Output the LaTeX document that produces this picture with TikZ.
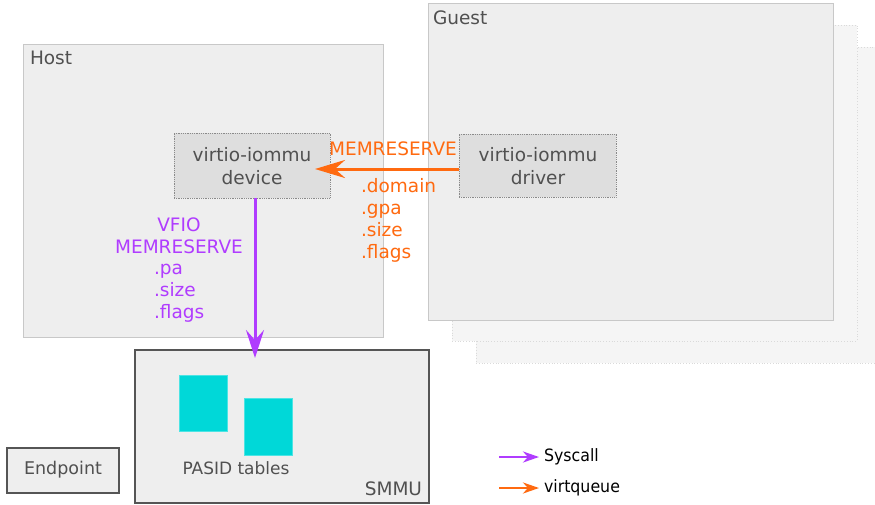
\documentclass[tikz,border=0pt]{standalone}
\usepackage{fontspec}
\setmainfont{DejaVu Sans}
\usetikzlibrary{arrows.meta}
\definecolor{boxfill}{HTML}{EEEEEE}
\definecolor{boxline}{HTML}{C8C8C8}
\definecolor{shadowfill}{HTML}{F5F5F5}
\definecolor{shadowline}{HTML}{DADADA}
\definecolor{compfill}{HTML}{DEDEDE}
\definecolor{compline}{HTML}{8A8A8A}
\definecolor{hwline}{HTML}{555555}
\definecolor{txt}{HTML}{505050}
\definecolor{orng}{HTML}{FF6A10}
\definecolor{purp}{HTML}{B03CFF}
\definecolor{tblfill}{HTML}{00D8D8}
\begin{document}
\begin{tikzpicture}[x=1pt,y=-1pt,
  every node/.style={inner sep=0pt, outer sep=0pt},
  region/.style={fill=boxfill, draw=boxline, line width=1pt, anchor=north west},
  shadowbox/.style={fill=shadowfill, draw=shadowline, dotted, line width=0.8pt, anchor=north west},
  comp/.style={fill=compfill, draw=compline, densely dotted, line width=0.8pt, anchor=north west},
  hw/.style={fill=boxfill, draw=hwline, line width=1.2pt, anchor=north west},
  tbl/.style={fill=tblfill, draw=tblfill!70!white, line width=0.6pt, anchor=north west},
  lbl/.style={text=txt, font=\fontsize{18.5}{23}\selectfont},
  olbl/.style={text=orng, font=\fontsize{18.5}{22}\selectfont},
  plbl/.style={text=purp, font=\fontsize{18.5}{22}\selectfont},
  oarrow/.style={draw=orng, line width=3pt, -{Stealth[length=30pt,width=18pt,inset=10pt]}},
  parrow/.style={draw=purp, line width=3pt, -{Stealth[length=28pt,width=18pt,inset=10pt]}},
  legarrowp/.style={draw=purp, line width=2.5pt, -{Stealth[length=16pt,width=11pt,inset=5pt]}},
  legarrowo/.style={draw=orng, line width=2.5pt, -{Stealth[length=16pt,width=11pt,inset=5pt]}},
]
\useasboundingbox[fill=white] (0,0) rectangle (875,504);

% Host
\node[region, minimum width=360pt, minimum height=293pt] (host) at (23,44) {};
\node[lbl, anchor=west] (hostl) at (30,58) {Host};

% Guest shadows
\node[shadowbox, minimum width=399pt, minimum height=316pt] (sh2) at (476,47) {};
\node[shadowbox, minimum width=405pt, minimum height=316pt] (sh1) at (452,25) {};
\node[region, minimum width=405pt, minimum height=317pt] (guest) at (428,3) {};
\node[lbl, anchor=west] (guestl) at (433,18) {Guest};

% components
\node[comp, minimum width=156pt, minimum height=65pt] (devbox) at (174,133) {};
\node[lbl, align=center] (dev) at (252,166) {virtio-iommu\\device};
\node[comp, minimum width=157pt, minimum height=63pt] (drvbox) at (459,134) {};
\node[lbl, align=center] (drv) at (538,166) {virtio-iommu\\driver};

% SMMU
\node[hw, minimum width=294pt, minimum height=153pt] (smmu) at (135,350) {};
\node[lbl, anchor=east] (smmul) at (422,489) {SMMU};
\node[tbl, minimum width=48pt, minimum height=56pt] (t1) at (179,375) {};
\node[tbl, minimum width=48pt, minimum height=57pt] (t2) at (244,398) {};
\node[lbl, font=\fontsize{17}{20}\selectfont] (pasid) at (236,468) {PASID tables};

% Endpoint
\node[hw, minimum width=112pt, minimum height=45pt] (ep) at (7,448) {};
\node[lbl, font=\fontsize{17.5}{20}\selectfont] (epl) at (63,470) {Endpoint};

% orange connector
\coordinate (oend) at (315,169);
\draw[oarrow] (drvbox.west |- oend) -- (oend);
\node[olbl] (mem1) at (393,149) {MEMRESERVE};
\node[olbl, anchor=west, align=left] (ofields) at (361,220) {.domain\\.gpa\\.size\\.flags};

% purple connector
\coordinate (pend) at (255,358);
\draw[parrow] (devbox.south -| pend) -- (pend);
\node[plbl, align=center] (vfio) at (179,236) {VFIO\\MEMRESERVE};
\node[plbl, anchor=west, align=left] (pfields) at (154,293) {.pa\\.size\\.flags};

% legend
\coordinate (lp1) at (499,457);
\coordinate (lp2) at (539,457);
\coordinate (lo1) at (499,488);
\coordinate (lo2) at (539,488);
\draw[legarrowp] (lp1) -- (lp2);
\draw[legarrowo] (lo1) -- (lo2);
\node[anchor=west, font=\fontsize{17}{20}\selectfont, xscale=0.93] (sysl) at (544,457) {Syscall};
\node[anchor=west, font=\fontsize{17}{20}\selectfont, xscale=0.93] (vql) at (544,488) {virtqueue};
\end{tikzpicture}
\end{document}
